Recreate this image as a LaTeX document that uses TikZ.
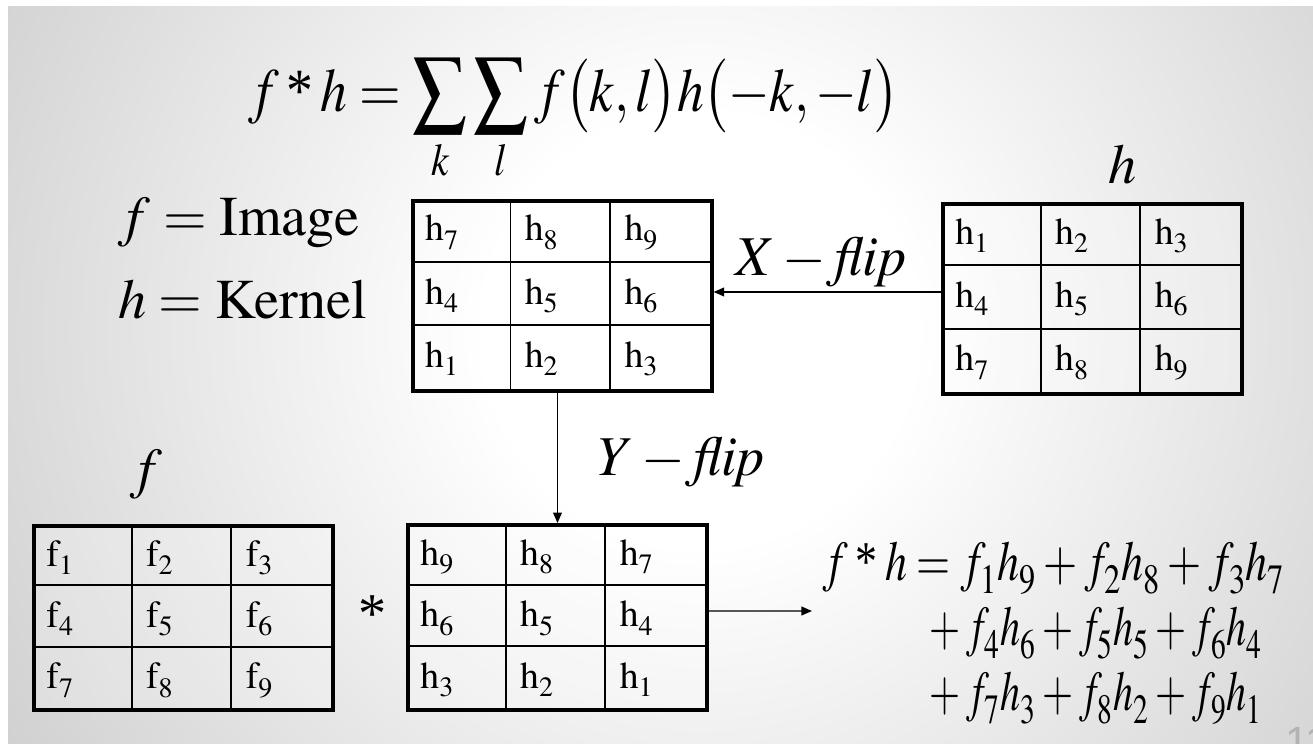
\documentclass[tikz,border=0pt]{standalone}
\usepackage{amsmath}
\usepackage{mathptmx}
\usepackage[no-math]{fontspec}
\setmainfont{Liberation Serif}
\setsansfont{Liberation Sans}
\usetikzlibrary{arrows.meta}

\pgfdeclareradialshading{slidebg}{\pgfpoint{0bp}{0bp}}{color(0bp)=(white); color(6bp)=(white); color(44bp)=(black!42); color(50bp)=(black!42)}
\newcommand{\dropsubs}[1]{\fontdimen16\textfont2=#1em \fontdimen17\textfont2=#1em }

\begin{document}
\begin{tikzpicture}[x=0.02cm,y=-0.02cm,
  mat/.style={draw,line width=2.2pt,fill=white,fill opacity=0.25,inner sep=0pt,minimum width=5.98cm},
  cellline/.style={line width=1.1pt},
  cell/.style={anchor=base west,inner sep=0pt,font=\fontsize{21.5}{24}\selectfont},
  big/.style={anchor=base west,inner sep=0pt,font=\fontsize{32}{36}\selectfont},
  eq/.style={anchor=base west,inner sep=0pt,font=\fontsize{32}{36}\selectfont},
  flow/.style={line width=0.8pt,-{Triangle[length=6pt,width=5pt]}}]
  % slide background
  \useasboundingbox (0,0) rectangle (1313,744);
  \fill[white] (0,0) rectangle (1313,744);
  \begin{scope}
    \clip (8,6) rectangle (1313,744);
    \shade[shading=slidebg] (700,330) circle (900);
  \end{scope}
  % formulas and labels
  \node[big,font=\fontsize{35}{40}\selectfont] (conv) at (248,111) {\scalebox{0.87}[1]{$f\mathbin{\text{*}}h=\displaystyle\sum_k\sum_l f\bigl(k,l\bigr)h\bigl(-k,-l\bigr)$}};
  \node[big] (fimg) at (118,235) {$f=\mathrm{Image}$};
  \node[big] (hker) at (118,318) {$h=\mathrm{Kernel}$};
  \node[big] (hlbl) at (1108,183) {$h$};
  \node[big] (flbl) at (130,487) {$f$};
  \node[big] (xflip) at (735,275) {$X-\mathit{flip}$};
  \node[big] (yflip) at (598,475) {$Y-\mathit{flip}$};
  \node[big] (star) at (358,632) {*};
  % the four grids
  \foreach \nm/\cx/\cy/\hh/\ltr/\lbl in {hA/562.2/295.7/190/h/{7,8,9,4,5,6,1,2,3},
      hB/1092.5/299/190/h/{1,2,3,4,5,6,7,8,9},
      fF/183.5/618/184/f/{1,2,3,4,5,6,7,8,9},
      hD/557.5/617.5/185/h/{9,8,7,6,5,4,3,2,1}}{
    \node[mat,minimum height=\hh*0.02cm] (\nm) at (\cx,\cy) {};
    \begin{scope}[shift={(\nm.north west)}]
      \draw[cellline] (99.7,0) -- (99.7,\hh) (199.3,0) -- (199.3,\hh)
        (0,{\hh/3}) -- (299,{\hh/3}) (0,{2*\hh/3}) -- (299,{2*\hh/3});
      \foreach \t [count=\i from 0] in \lbl
        \node[cell] (\nm-\i) at ({mod(\i,3)*99.7+14},{int(\i/3)*\hh/3+42}) {$\dropsubs{0.22}\mathrm{\ltr}_{\t}$};
    \end{scope}
  }
  % connectors
  \coordinate (out) at (812,611);
  \draw[flow] ([yshift=4pt]hB.west) -- ([yshift=4pt]hB.west -| hA.east);
  \draw[flow] (hA.south -| hD.north) -- (hD.north);
  \draw[flow] ([yshift=3.7pt]hD.east) -- (out);
  % result
  \node[eq] (eq1) at (823,580) {\scalebox{0.78}[1]{$\dropsubs{0.24}\medmuskip=3mu\thickmuskip=4mu f\mathbin{\text{*}}h=f_1h_9+f_2h_8+f_3h_7$}};
  \node[eq] (eq2) at (922,645) {\scalebox{0.71}[1]{$\medmuskip=3mu{}+f_4h_6+f_5h_5+f_6h_4$}};
  \node[eq] (eq3) at (922,710) {\scalebox{0.71}[1]{$\medmuskip=3mu{}+f_7h_3+f_8h_2+f_9h_1$}};
  \node[anchor=base west,inner sep=0pt,text=black!30,font=\sffamily\fontsize{24}{26}\selectfont] (pg) at (1285,756) {11};
\end{tikzpicture}
\end{document}
